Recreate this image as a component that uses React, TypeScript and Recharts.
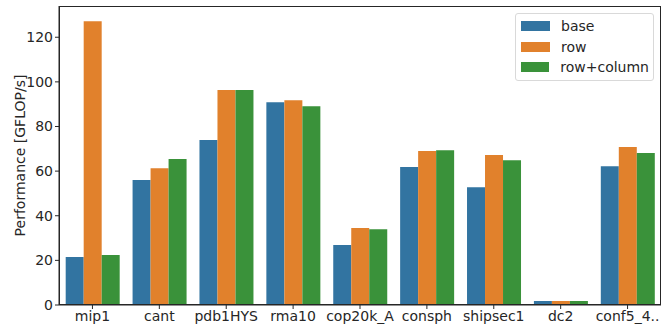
import * as React from "react";
import { BarChart, Bar, XAxis, YAxis } from "recharts";

const matrices = ["mip1", "cant", "pdb1HYS", "rma10", "cop20k_A", "consph", "shipsec1", "dc2", "conf5_4.."];
const baseValues = [21.5, 56.0, 73.9, 90.9, 26.9, 61.8, 52.8, 1.8, 62.2];
const rowValues = [127.2, 61.3, 96.3, 91.8, 34.5, 69.0, 67.2, 1.8, 70.8];
const rowColumnValues = [22.4, 65.4, 96.3, 89.1, 34.0, 69.4, 64.9, 1.8, 68.1];
const yTicks = [0, 20, 40, 60, 80, 100, 120];

const SERIES = [
  { key: "base", label: "base", color: "#3274a1" },
  { key: "row", label: "row", color: "#e1812c" },
  { key: "rowColumn", label: "row+column", color: "#3a923a" },
];

const FONT = "'DejaVu Sans', sans-serif";
const AXIS = "#262626";
const FS = 14;

const data = matrices.map((name, i) => ({
  name,
  base: baseValues[i],
  row: rowValues[i],
  rowColumn: rowColumnValues[i],
}));

function LegendBox() {
  return (
    <div
      style={{
        position: "absolute",
        left: 515,
        top: 13,
        boxSizing: "border-box",
        width: 139,
        border: "1px solid #d9d9d9",
        borderRadius: 3,
        background: "rgba(255,255,255,0.8)",
        padding: "2px 4px 2px 5px",
        fontFamily: FONT,
        fontSize: FS,
        color: "#262626",
      }}
    >
      {SERIES.map((s) => (
        <div key={s.key} style={{ display: "flex", alignItems: "center", height: 20.5 }}>
          <span style={{ display: "inline-block", width: 29, height: 10, background: s.color, marginRight: 11 }} />
          <span>{s.label}</span>
        </div>
      ))}
    </div>
  );
}

export default function App() {
  return (
    <div style={{ position: "absolute", left: 0, top: 0, width: 668, height: 326, background: "#fff" }}>
      <BarChart
        width={668}
        height={326}
        data={data}
        margin={{ top: 6, right: 7, left: 0, bottom: 0 }}
        barCategoryGap="10%"
        barGap={0}
      >
        <XAxis
          dataKey="name"
          interval={0}
          height={21}
          tickSize={4}
          tickLine={{ stroke: AXIS }}
          axisLine={{ stroke: AXIS }}
          tick={{ fontSize: FS, fontFamily: FONT, fill: "#262626" }}
        />
        <YAxis
          width={59}
          domain={[0, 134]}
          ticks={yTicks}
          tickSize={4}
          tickLine={{ stroke: AXIS }}
          axisLine={{ stroke: AXIS }}
          tick={{ fontSize: FS, fontFamily: FONT, fill: "#262626" }}
          label={{
            value: "Performance [GFLOP/s]",
            angle: -90,
            position: "insideLeft",
            offset: 20,
            style: { textAnchor: "middle", fontSize: FS, fontFamily: FONT, fill: "#262626" },
          }}
        />
        {SERIES.map((s) => (
          <Bar key={s.key} dataKey={s.key} name={s.label} fill={s.color} isAnimationActive={false} />
        ))}
      </BarChart>
      {/* matplotlib-style frame around the plot area */}
      <div
        style={{
          position: "absolute",
          left: 59,
          top: 6,
          width: 602,
          height: 299,
          boxSizing: "border-box",
          border: `1px solid ${AXIS}`,
          pointerEvents: "none",
        }}
      />
      <LegendBox />
    </div>
  );
}
